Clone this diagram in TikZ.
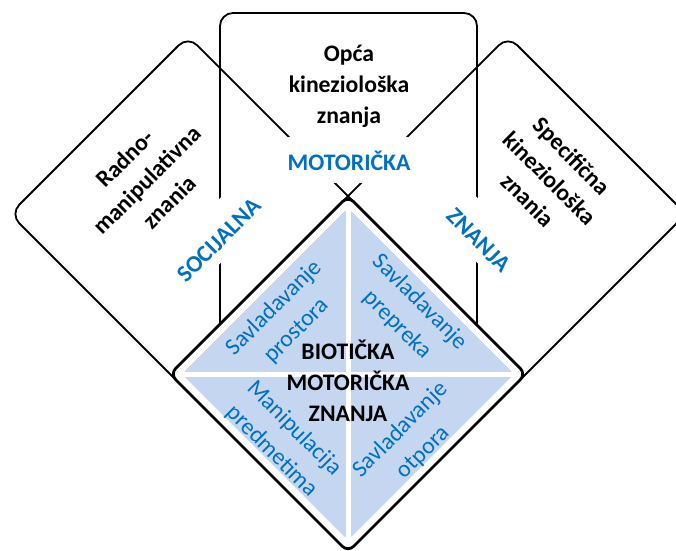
\documentclass[tikz,border=0pt]{standalone}
\usepackage{fontspec}
\setmainfont{Carlito}
\definecolor{txtblue}{RGB}{0,112,192}
\definecolor{fillblue}{RGB}{197,214,241}
\begin{document}
\begin{tikzpicture}[x=1pt,y=-1pt,
  boxline/.style={draw=black, line width=1.8pt, rounded corners=13pt, inner sep=0pt},
  boxtext/.style={font=\fontsize{23.7}{31}\selectfont\bfseries, align=center, text=black, inner sep=0pt},
  lbl/.style={font=\fontsize{23.7}{31}\selectfont\bfseries, text=txtblue, fill=white, minimum height=46pt, inner xsep=3pt, inner ysep=0pt, text depth=0pt},
  quad/.style={font=\fontsize{23.7}{32}\selectfont, text=txtblue, align=center, inner sep=0pt},
  crossline/.style={draw=white, line width=5pt},
]
\useasboundingbox (0,0) rectangle (676,550);
% outer boxes
\node[boxline, minimum width=251.7pt, minimum height=299.8pt, rotate=45] (lbox) at (205,231) {};
\node[boxline, minimum width=251.7pt, minimum height=299.8pt, rotate=-45] (rbox) at (491,231) {};
\node[boxline, minimum width=257pt, minimum height=387pt] (tbox) at (348.5,206.5) {};
% box texts
\node[boxtext] (ttext) at (349,86) {Opća\\kineziološka\\znanja};
\node[boxtext, rotate=45] (ltext) at (147,180) {Radno-\\manipulativna\\znania};
\node[boxtext, rotate=-45] (rtext) at (550,178) {Specifična\\kineziološka\\znania};
% central diamond
\node[draw=black, line width=2.8pt, fill=white, rounded corners=8pt, minimum width=251.7pt, minimum height=251.7pt, inner sep=0pt, rotate=45] (dia) at (348,374) {};
\node[fill=fillblue, rounded corners=5pt, minimum width=234.8pt, minimum height=234.8pt, inner sep=0pt, rotate=45] (inner) at (348,374) {};
\path[crossline] (inner.north east) -- (inner.south west);
\path[crossline] (inner.north west) -- (inner.south east);
% labels
\node[lbl, text height=21pt] (mot) at (349,160) {MOTORIČKA};
\node[lbl, text height=27pt, rotate=45] (soc) at (215,236) {SOCIJALNA};
\node[lbl, text height=27pt, rotate=-45] (zna) at (483,236) {ZNANJA};
% quadrant texts
\node[quad, rotate=45] (q1) at (285.5,319.5) {Savladavanje\\prostora};
\node[quad, rotate=-45] (q2) at (408.5,313.5) {Savladavanje\\prepreka};
\node[quad, rotate=-45] (q3) at (283,440) {Manipulacija\\predmetima};
\node[quad, rotate=45] (q4) at (412,441) {Savladavanje\\otpora};
% centre text
\node[boxtext] (bio) at (348,381) {BIOTIČKA\\MOTORIČKA\\ZNANJA};
\end{tikzpicture}
\end{document}
